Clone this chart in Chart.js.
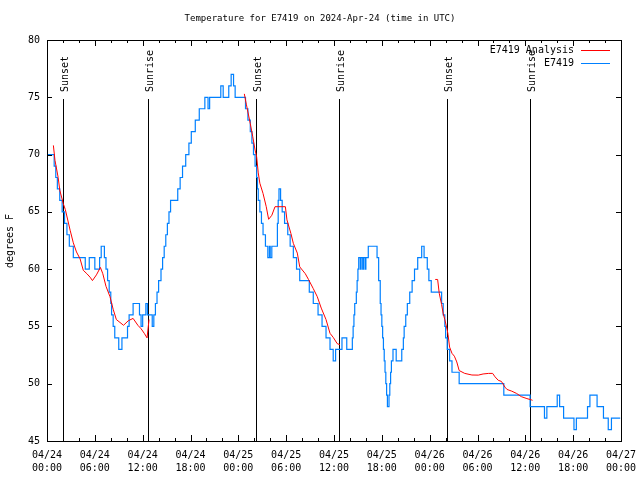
<!DOCTYPE html>
<html>
<head>
<meta charset="utf-8">
<script src="https://cdn.jsdelivr.net/npm/chart.js@4/dist/chart.umd.min.js"></script>
<style>
  html, body { margin: 0; padding: 0; background: #fff; }
  #wrap { width: 640px; height: 480px; }
</style>
</head>
<body>
<div id="wrap"><canvas id="tempChart" width="640" height="480"></canvas></div>
<script>
// hours since 04/24 00:00 UTC
const obsHours = [0, 0.9, 1.1, 1.3, 1.6, 1.9, 2.2, 2.5, 2.8, 3.3, 4.8, 5.3, 6.0, 6.6, 6.8, 7.2, 7.4, 7.6, 7.8, 8.0,
    8.1, 8.3, 8.5, 9.0, 9.4, 10.1, 10.3, 10.8, 11.6, 11.8, 12.0, 12.4, 12.6, 13.2, 13.4, 13.6, 13.8, 14.0, 14.3, 14.5,
    14.7, 14.9, 15.1, 15.3, 15.5, 16.4, 16.7, 17.0, 17.4, 17.8, 18.1, 18.6, 19.1, 19.8, 20.2, 20.4, 21.8, 22.1, 22.8, 23.1,
    23.4, 23.6, 24.9, 25.2, 25.5, 25.7, 25.9, 26.1, 26.3, 26.4, 26.5, 26.7, 26.9, 27.1, 27.4, 27.7, 27.9, 28.0, 28.2, 28.9,
    29.0, 29.1, 29.3, 29.5, 29.8, 30.2, 30.5, 30.9, 31.3, 31.7, 32.9, 33.4, 34.0, 34.5, 35.0, 35.5, 35.9, 36.2, 37.0, 37.6,
    38.3, 38.4, 38.5, 38.6, 38.8, 38.9, 39.0, 39.1, 39.3, 39.4, 39.6, 39.7, 39.9, 40.0, 40.3, 41.4, 41.6, 41.8, 41.9, 42.0,
    42.1, 42.2, 42.3, 42.4, 42.5, 42.6, 42.7, 42.9, 43.0, 43.1, 43.2, 43.4, 43.8, 44.5, 44.7, 44.8, 45.0, 45.2, 45.5, 45.8,
    46.1, 46.5, 47.0, 47.3, 47.7, 47.9, 48.2, 49.5, 49.7, 49.9, 50.0, 50.2, 50.5, 50.8, 51.7, 57.3, 60.6, 62.4, 62.7, 64.0,
    64.3, 64.8, 66.1, 66.4, 67.8, 68.1, 69.0, 69.8, 70.4, 70.8, 71.9];
const obsTemps = [70, 69, 68, 67, 66, 65, 64, 63, 62, 61, 60, 61, 60, 61, 62, 61, 60, 59, 58, 57,
    56, 55, 54, 53, 54, 55, 56, 57, 56, 55, 56, 57, 56, 55, 56, 57, 58, 59, 60, 61,
    62, 63, 64, 65, 66, 67, 68, 69, 70, 71, 72, 73, 74, 75, 74, 75, 76, 75, 76, 77,
    76, 75, 74, 73, 72, 71, 70, 69, 68, 67, 66, 65, 64, 63, 62, 61, 62, 61, 62, 64,
    66, 67, 66, 65, 64, 63, 62, 61, 60, 59, 58, 57, 56, 55, 54, 53, 52, 53, 54, 53,
    54, 55, 56, 57, 58, 59, 60, 61, 60, 61, 60, 61, 60, 61, 62, 61, 59, 57, 56, 55,
    54, 53, 52, 51, 50, 49, 48, 49, 50, 51, 52, 53, 52, 53, 54, 55, 56, 57, 58, 59,
    60, 61, 62, 61, 60, 59, 58, 57, 56, 55, 54, 53, 52, 51, 50, 49, 48, 47, 48, 49,
    48, 47, 46, 47, 48, 49, 48, 47, 46, 47, 47];

// analysis, null = gap between runs
const anaHours = [0.8, 1.0, 1.4, 1.6, 2.05, 2.3, 2.9, 3.3, 3.7, 4.15, 4.55, 5.0, 5.4, 5.7, 6.2, 6.7, 7.0, 7.4, 7.9, 8.3,
    8.7, 9.6, 10.2, 10.8, 11.4, 11.8, 12.2, 12.55, 12.8,
    18,
    24.75, 25.0, 25.5, 25.8, 26.1, 26.3, 26.5, 26.7, 27.1, 27.5, 27.8, 28.2, 28.6, 29.9, 30.1, 30.6, 30.9, 31.4, 31.7, 32.4,
    32.8, 33.4, 33.9, 34.4, 35.0, 35.5, 35.9, 36.4, 36.75,
    42,
    48.7, 49.0, 49.2, 49.5, 49.7, 49.9, 50.2, 50.3, 50.5, 50.8, 51.1, 51.4, 51.7, 52.4, 53.3, 54.1, 54.7, 55.4, 55.9, 56.2,
    56.6, 57.0, 57.45, 57.7, 58.3, 58.9, 59.5, 60.2, 60.8, 60.9];
const anaTemps = [70.8, 69.5, 68.0, 66.9, 65.7, 65.2, 63.4, 62.3, 61.5, 60.9, 59.9, 59.6, 59.3, 59.0, 59.5, 60.15, 59.6, 58.5, 57.6, 56.5,
    55.6, 55.1, 55.5, 55.7, 55.1, 54.8, 54.4, 54.0, 55.6,
    null,
    75.3, 74.4, 72.7, 71.6, 70.4, 69.8, 68.4, 67.5, 66.6, 65.45, 64.35, 64.7, 65.45, 65.45, 64.3, 63.1, 62.25, 61.4, 60.2, 59.6,
    59.1, 58.3, 57.6, 56.6, 55.6, 54.4, 54.05, 53.5, 53.4,
    null,
    59.1, 59.1, 57.9, 56.9, 56.1, 55.6, 54.7, 54.3, 53.2, 52.65, 52.4, 51.9, 51.15, 50.9, 50.76, 50.75, 50.85, 50.9, 50.9, 50.6,
    50.3, 50.2, 49.7, 49.5, 49.35, 49.15, 48.87, 48.7, 48.58, 48.55];

const sunHours = [2.05, 12.63, 26.2, 36.67, 50.2, 60.6];
const sunLabels = ['Sunset', 'Sunrise', 'Sunset', 'Sunrise', 'Sunset', 'Sunrise'];

const xTickDates = ['04/24', '04/24', '04/24', '04/24', '04/25', '04/25', '04/25', '04/25', '04/26', '04/26', '04/26', '04/26', '04/27'];
const xTickTimes = ['00:00', '06:00', '12:00', '18:00', '00:00', '06:00', '12:00', '18:00', '00:00', '06:00', '12:00', '18:00', '00:00'];

const FONT = '"DejaVu Sans Mono", "Liberation Mono", monospace';
const RED = '#ff0000';
const BLUE = 'rgb(0,128,255)';

// gnuplot style frame, inward ticks, sun lines, legend, titles
const gnuPlugin = {
    id: 'gnu',
    beforeDatasetsDraw(chart) {
        const ctx = chart.ctx;
        const x = chart.scales.x;
        const a = chart.chartArea;
        ctx.save();
        ctx.strokeStyle = '#000';
        ctx.lineWidth = 1;
        ctx.fillStyle = '#000';
        ctx.font = '10px ' + FONT;
        ctx.textAlign = 'left';
        ctx.textBaseline = 'alphabetic';
        sunHours.forEach((h, i) => {
            const px = Math.round(x.getPixelForValue(h)) + 0.5;
            ctx.beginPath();
            ctx.moveTo(px, 99);
            ctx.lineTo(px, a.bottom);
            ctx.stroke();
            ctx.save();
            ctx.translate(px + 4.5, 92);
            ctx.rotate(-Math.PI / 2);
            ctx.fillText(sunLabels[i], 0, 0);
            ctx.restore();
        });
        ctx.restore();
    },
    afterDraw(chart) {
        const ctx = chart.ctx;
        const x = chart.scales.x;
        const y = chart.scales.y;
        const a = chart.chartArea;
        ctx.save();
        ctx.strokeStyle = '#000';
        ctx.lineWidth = 1;
        ctx.strokeRect(Math.round(a.left) + 0.5, Math.round(a.top) + 0.5,
            Math.round(a.right - a.left), Math.round(a.bottom - a.top));

        ctx.beginPath();
        for (let h = 0; h <= 72; h += 2) {
            const px = Math.round(x.getPixelForValue(h)) + 0.5;
            const len = h % 6 === 0 ? 6 : 3;
            ctx.moveTo(px, a.bottom); ctx.lineTo(px, a.bottom - len);
            ctx.moveTo(px, a.top); ctx.lineTo(px, a.top + len);
        }
        for (let v = 45; v <= 80; v += 5) {
            const py = Math.round(y.getPixelForValue(v)) + 0.5;
            ctx.moveTo(a.left, py); ctx.lineTo(a.left + 5, py);
            ctx.moveTo(a.right, py); ctx.lineTo(a.right - 5, py);
        }
        ctx.stroke();

        // legend
        ctx.font = '10px ' + FONT;
        ctx.fillStyle = '#000';
        ctx.textAlign = 'right';
        ctx.textBaseline = 'middle';
        const items = [['E7419 Analysis', RED], ['E7419', BLUE]];
        items.forEach((it, i) => {
            const ly = 50 + i * 13;
            ctx.fillText(it[0], 574, ly);
            ctx.strokeStyle = it[1];
            ctx.beginPath();
            ctx.moveTo(581, ly + 0.5);
            ctx.lineTo(610, ly + 0.5);
            ctx.stroke();
        });

        // title and y title
        ctx.textAlign = 'center';
        ctx.font = '9px ' + FONT;
        ctx.fillText('Temperature for E7419 on 2024-Apr-24 (time in UTC)', 320, 19);
        ctx.font = '10px ' + FONT;
        ctx.translate(10, 241);
        ctx.rotate(-Math.PI / 2);
        ctx.fillText('degrees F', 0, 0);
        ctx.restore();
    }
};

function initTempChart() {
    const el = document.getElementById('tempChart');
    const tickFont = { family: FONT, size: 10, lineHeight: 1.3 };

    new Chart(el.getContext('2d'), {
        type: 'line',
        data: {
            datasets: [{
                label: 'E7419 Analysis',
                data: anaHours.map((h, i) => ({ x: h, y: anaTemps[i] })),
                borderColor: RED,
                borderWidth: 1,
                pointRadius: 0,
                tension: 0,
                spanGaps: false
            }, {
                label: 'E7419',
                data: obsHours.map((h, i) => ({ x: h, y: obsTemps[i] })),
                borderColor: BLUE,
                borderWidth: 1.2,
                pointRadius: 0,
                stepped: true
            }]
        },
        options: {
            responsive: false,
            animation: false,
            layout: { padding: { top: 40, right: 19, left: 0, bottom: 0 } },
            plugins: {
                legend: { display: false },
                title: { display: false },
                tooltip: { enabled: false }
            },
            scales: {
                x: {
                    type: 'linear',
                    min: 0,
                    max: 72,
                    grid: { display: false, drawTicks: false },
                    border: { display: false },
                    ticks: {
                        stepSize: 6,
                        autoSkip: false,
                        maxRotation: 0,
                        padding: 8,
                        color: '#000',
                        font: tickFont,
                        callback: (v) => [xTickDates[v / 6], xTickTimes[v / 6]]
                    },
                    afterFit(s) {
                        s.height = 39;
                        s.paddingLeft = 0;
                        s.paddingRight = 0;
                    }
                },
                y: {
                    min: 45,
                    max: 80,
                    grid: { display: false, drawTicks: false },
                    border: { display: false },
                    ticks: {
                        stepSize: 5,
                        padding: 7,
                        color: '#000',
                        font: tickFont
                    },
                    afterFit(s) {
                        s.width = 47;
                        s.paddingTop = 0;
                        s.paddingBottom = 0;
                    }
                }
            }
        },
        plugins: [gnuPlugin]
    });
}

initTempChart();
</script>
</body>
</html>
